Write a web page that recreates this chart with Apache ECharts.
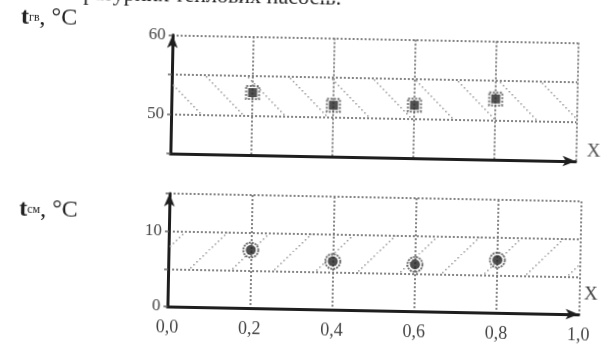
<!DOCTYPE html>
<html>
<head>
<meta charset="utf-8">
<script src="https://cdn.jsdelivr.net/npm/echarts@6/dist/echarts.min.js"></script>
<style>
html,body{margin:0;padding:0;background:#fff;overflow:hidden;}
#c{width:601px;height:347px;transform:rotate(1.1deg);transform-origin:50% 50%;}
</style>
</head>
<body>
<div id="c"></div>
<script>
// ---- data ----
const xVals = [0.2, 0.4, 0.6, 0.8];
const tgv = [52.9, 51.5, 51.7, 52.7];      // t_гв, °C
const tsm = [7.7, 6.4, 6.2, 7.0];          // t_см, °C
const xTickLabels = ['0,0', '0,2', '0,4', '0,6', '0,8', '1,0'];
const topYTicks = [50, 60];
const bottomYTicks = [0, 10];
const topBand = [50, 55];
const bottomBand = [5, 10];
const headerText = 'ратурних теплових насосів.';
const topTitle = 'гв';
const bottomTitle = 'см';

function hatch(dir) {
  const c = document.createElement('canvas');
  c.width = 42; c.height = 42;
  const g = c.getContext('2d');
  g.fillStyle = '#999';
  for (let i = 0; i < 42; i += 3) {
    const y = dir > 0 ? i : 41 - i;
    g.fillRect(i, y, 1.5, 1.5);
  }
  return c;
}

const serif = '"Liberation Serif", "DejaVu Serif", serif';
const gridLine = { show: true, lineStyle: { type: [2, 2], color: '#777', width: 1.8 } };
const axLine = { show: true, symbol: ['none', 'arrow'], symbolSize: [8, 13], lineStyle: { color: '#1e1e1e', width: 3 } };

const pts = (ys) => xVals.map((x, i) => [x, ys[i]]);

function titleStyle() {
  return {
    fontFamily: serif, fontSize: 22, fontWeight: 'normal', color: '#222',
    rich: {
      t: { fontFamily: serif, fontWeight: 'bold', fontSize: 24, color: '#222' },
      s: { fontFamily: serif, fontWeight: 'normal', fontSize: 12, color: '#222' },
      n: { fontFamily: serif, fontWeight: 'normal', fontSize: 24, color: '#222' }
    }
  };
}

const chart = echarts.init(document.getElementById('c'), null, { renderer: 'canvas' });
chart.setOption({
  backgroundColor: '#fff',
  animation: false,
  title: [
    { text: '{t|t}{s|' + topTitle + '}{n|, °C}', left: 13, top: 6, textStyle: titleStyle() },
    { text: '{t|t}{s|' + bottomTitle + '}{n|, °C}', left: 15, top: 198, textStyle: titleStyle() }
  ],
  graphic: [
    { type: 'text', left: 80, top: -13,
      style: { text: headerText, font: '22px ' + serif, fill: '#222' } }
  ],
  grid: [
    { left: 170, right: 14, top: 37.5, height: 118.5 },
    { left: 170, right: 14, top: 196, height: 113 }
  ],
  xAxis: [
    { gridIndex: 0, type: 'value', min: 0, max: 1, interval: 0.2,
      axisLine: axLine, axisTick: { show: false }, axisLabel: { show: false },
      splitLine: gridLine,
      name: 'X', nameLocation: 'end', nameGap: 11,
      nameTextStyle: { fontFamily: serif, fontSize: 19, color: '#555', verticalAlign: 'bottom', padding: [0, 0, 0, 0] } },
    { gridIndex: 1, type: 'value', min: 0, max: 1, interval: 0.2,
      axisLine: axLine, axisTick: { show: false },
      axisLabel: { margin: 12, fontFamily: serif, fontSize: 18, color: '#444',
                   formatter: (v) => xTickLabels[Math.round(v / 0.2)] },
      splitLine: gridLine,
      name: 'X', nameLocation: 'end', nameGap: 5,
      nameTextStyle: { fontFamily: serif, fontSize: 19, color: '#444', verticalAlign: 'bottom', padding: [0, 0, 10, 0] } }
  ],
  yAxis: [
    { gridIndex: 0, type: 'value', min: 45, max: 60, interval: 5,
      axisLine: axLine, axisTick: { show: true, length: 4, lineStyle: { color: '#666', width: 1.5 } },
      axisLabel: { margin: 7, fontFamily: serif, fontSize: 17, color: '#444',
                   formatter: (v) => topYTicks.includes(v) ? String(v) : '' },
      splitLine: gridLine },
    { gridIndex: 1, type: 'value', min: 0, max: 15, interval: 5,
      axisLine: axLine, axisTick: { show: true, length: 4, lineStyle: { color: '#666', width: 1.5 } },
      axisLabel: { margin: 7, fontFamily: serif, fontSize: 17, color: '#444',
                   formatter: (v) => bottomYTicks.includes(v) ? String(v) : '' },
      splitLine: gridLine }
  ],
  series: [
    { type: 'scatter', xAxisIndex: 0, yAxisIndex: 0, data: pts(tgv),
      symbol: 'rect', symbolSize: 13, silent: true,
      itemStyle: { color: 'transparent', borderColor: '#555', borderWidth: 2, borderType: [2, 1.5] },
      markArea: { silent: true, itemStyle: { color: { image: hatch(1), repeat: 'repeat' } },
                  data: [[{ xAxis: 0, yAxis: topBand[0] }, { xAxis: 1, yAxis: topBand[1] }]] } },
    { type: 'scatter', xAxisIndex: 0, yAxisIndex: 0, data: pts(tgv),
      symbol: 'rect', symbolSize: 9, itemStyle: { color: '#262626' } },
    { type: 'scatter', xAxisIndex: 1, yAxisIndex: 1, data: pts(tsm),
      symbol: 'circle', symbolSize: 15, silent: true,
      itemStyle: { color: 'transparent', borderColor: '#444', borderWidth: 1.8, borderType: [2, 1] },
      markArea: { silent: true, itemStyle: { color: { image: hatch(-1), repeat: 'repeat' } },
                  data: [[{ xAxis: 0, yAxis: bottomBand[0] }, { xAxis: 1, yAxis: bottomBand[1] }]] } },
    { type: 'scatter', xAxisIndex: 1, yAxisIndex: 1, data: pts(tsm),
      symbol: 'circle', symbolSize: 10, itemStyle: { color: '#222' } }
  ]
});
</script>
</body>
</html>
